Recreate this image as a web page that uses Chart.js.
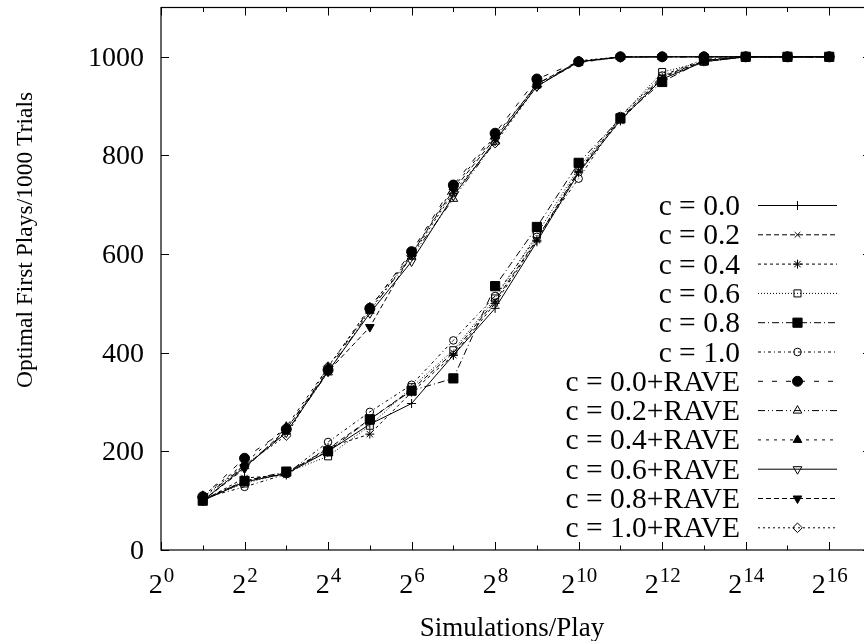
<!DOCTYPE html>
<html><head><meta charset="utf-8">
<script src="https://cdn.jsdelivr.net/npm/chart.js@4.4.1/dist/chart.umd.min.js"></script>
<style>html,body{margin:0;padding:0;background:#fff;overflow:hidden;width:864px;height:641px}canvas{display:block}</style>
</head><body>
<canvas id="c" width="880" height="641" style="width:880px;height:641px"></canvas>
<script>
// ---- data ----
const simulations = [2,4,8,16,32,64,128,256,512,1024,2048,4096,8192,16384,32768,65536];
const c00 = [100,138,155,200,255,297,395,490,625,765,872,955,990,1000,1000,1000];
const c02 = [102,140,156,205,265,325,400,505,630,770,875,960,992,1000,1000,1000];
const c04 = [100,146,152,208,235,320,395,500,628,768,870,958,991,1000,1000,1000];
const c06 = [103,135,157,190,252,330,405,510,640,775,878,969,990,1000,1000,1000];
const c08 = [100,140,159,200,265,323,348,535,655,785,875,949,993,1000,1000,1000];
const c10 = [105,128,154,219,280,335,425,515,635,753,880,962,995,1000,1000,1000];
const r00 = [108,186,245,365,490,605,740,845,955,990,1000,1000,1000,1000,1000,1000];
const r02 = [105,170,240,360,485,595,712,828,945,990,1000,1000,1000,1000,1000,1000];
const r04 = [110,175,250,370,492,600,735,840,942,988,1000,1000,1000,1000,1000,1000];
const r06 = [100,168,238,362,480,585,718,830,940,990,999,1000,1000,1000,1000,1000];
const r08 = [100,165,245,362,452,600,730,835,945,990,1000,1000,1000,1000,1000,1000];
const r10 = [107,172,232,372,487,597,725,825,940,992,1000,1000,1000,1000,1000,1000];
const seriesLabels = ['c = 0.0','c = 0.2','c = 0.4','c = 0.6','c = 0.8','c = 1.0',
  'c = 0.0+RAVE','c = 0.2+RAVE','c = 0.4+RAVE','c = 0.6+RAVE','c = 0.8+RAVE','c = 1.0+RAVE'];
const xMajorTicks = [1,4,16,64,256,1024,4096,16384,65536];
const xMajorExponents = ['0','2','4','6','8','10','12','14','16'];
const xMinorTicks = [2,8,32,128,512,2048,8192,32768];
const yTicks = [0,200,400,600,800,1000];
const xTitle = 'Simulations/Play';
const yTitle = 'Optimal First Plays/1000 Trials';

// ---- styles ----
const seriesValues = [c00,c02,c04,c06,c08,c10,r00,r02,r04,r06,r08,r10];
const dashes = [[],[5,3],[3,3],[1,2],[7,3,1,3],[3,3,1,3],[5,9],[7,3,1,3,1,3],[3,5],[],[5,3],[2,3]];
const pStyles = ['cross','crossRot','star','rect','rect','circle','circle','triangle','triangle','triangle','triangle','rectRot'];
const pFilled = [false,false,false,false,true,false,true,false,true,false,true,false];
const pRot = [0,0,0,0,0,0,0,0,0,180,180,0];
const pRad = [4.5,4,4.5,5,6.5,3.8,5,5,5,5,5,4.8];

const FONT = '"Liberation Serif", "Times New Roman", serif';

const datasets = seriesValues.map((vals,i)=>({
  label: seriesLabels[i],
  data: vals.map((v,j)=>({x: simulations[j], y: v})),
  borderColor:'#000', borderWidth:1, borderDash:dashes[i],
  pointStyle:pStyles[i], pointRadius:pRad[i], pointRotation:pRot[i],
  pointBorderColor:'#000', pointBorderWidth:1,
  pointBackgroundColor: pFilled[i] ? '#000' : 'rgba(0,0,0,0)',
  tension:0, fill:false
}));

const gnuplotFrame = {
  id:'gnuplotFrame',
  afterDraw(chart){
    const {ctx, chartArea:a, scales:{x, y}} = chart;
    ctx.save();
    ctx.strokeStyle='#000'; ctx.fillStyle='#000'; ctx.setLineDash([]);
    ctx.lineWidth=1.2;
    ctx.strokeRect(a.left, a.top, a.right-a.left, a.bottom-a.top);
    ctx.lineWidth=1;
    ctx.beginPath();
    xMajorTicks.forEach(v=>{const px=Math.round(x.getPixelForValue(v))+0.5;
      ctx.moveTo(px,a.bottom); ctx.lineTo(px,a.bottom-8); ctx.moveTo(px,a.top); ctx.lineTo(px,a.top+8);});
    xMinorTicks.forEach(v=>{const px=Math.round(x.getPixelForValue(v))+0.5;
      ctx.moveTo(px,a.bottom); ctx.lineTo(px,a.bottom-4.5); ctx.moveTo(px,a.top); ctx.lineTo(px,a.top+4.5);});
    yTicks.forEach(v=>{const py=Math.round(y.getPixelForValue(v))+0.5;
      ctx.moveTo(a.left,py); ctx.lineTo(a.left+8,py); ctx.moveTo(a.right,py); ctx.lineTo(a.right-8,py);});
    ctx.stroke();
    // y tick labels
    ctx.font='28px '+FONT; ctx.textAlign='right'; ctx.textBaseline='alphabetic';
    yTicks.forEach(v=>{ctx.fillText(String(v), 144, y.getPixelForValue(v)+9);});
    // x tick labels
    xMajorTicks.forEach((v,i)=>{
      const px=x.getPixelForValue(v);
      ctx.font='28px '+FONT; const wb=ctx.measureText('2').width;
      ctx.font='21px '+FONT; const ws=ctx.measureText(xMajorExponents[i]).width;
      const left=px-(wb+ws)/2;
      ctx.textAlign='left';
      ctx.font='28px '+FONT; ctx.fillText('2', left, 593);
      ctx.font='21px '+FONT; ctx.fillText(xMajorExponents[i], left+wb+1, 582);
    });
    // titles
    ctx.font='27px '+FONT; ctx.textAlign='center';
    ctx.fillText(xTitle, 512, 636);
    ctx.save();
    ctx.translate(32, 240); ctx.rotate(-Math.PI/2);
    ctx.font='23.5px '+FONT; ctx.textAlign='center';
    ctx.fillText(yTitle, 0, 0);
    ctx.restore();
    // legend
    chart.data.datasets.forEach((ds,i)=>{
      const ly=205+29.3*i;
      ctx.font='29.5px '+FONT; ctx.textAlign='right'; ctx.fillStyle='#000';
      ctx.fillText(ds.label, 740, ly+10);
      ctx.lineWidth=1; ctx.setLineDash(ds.borderDash);
      ctx.beginPath(); ctx.moveTo(758, ly+0.5); ctx.lineTo(837, ly+0.5); ctx.stroke();
      ctx.setLineDash([]);
      ctx.fillStyle=ds.pointBackgroundColor; ctx.strokeStyle='#000';
      Chart.helpers.drawPoint(ctx,{pointStyle:ds.pointStyle, rotation:ds.pointRotation, radius:ds.pointRadius, borderWidth:1}, 797.5, ly+0.5);
      ctx.fillStyle='#000';
    });
    ctx.restore();
  }
};

new Chart(document.getElementById('c'), {
  type:'line',
  data:{datasets},
  options:{
    responsive:false, devicePixelRatio:1, animation:false,
    layout:{padding:{left:161, right:9, top:7, bottom:91}},
    plugins:{legend:{display:false}, tooltip:{enabled:false}},
    scales:{
      x:{type:'logarithmic', min:1, max:131072, display:false},
      y:{type:'linear', min:0, max:1100, display:false}
    }
  },
  plugins:[gnuplotFrame]
});
</script>
</body></html>
